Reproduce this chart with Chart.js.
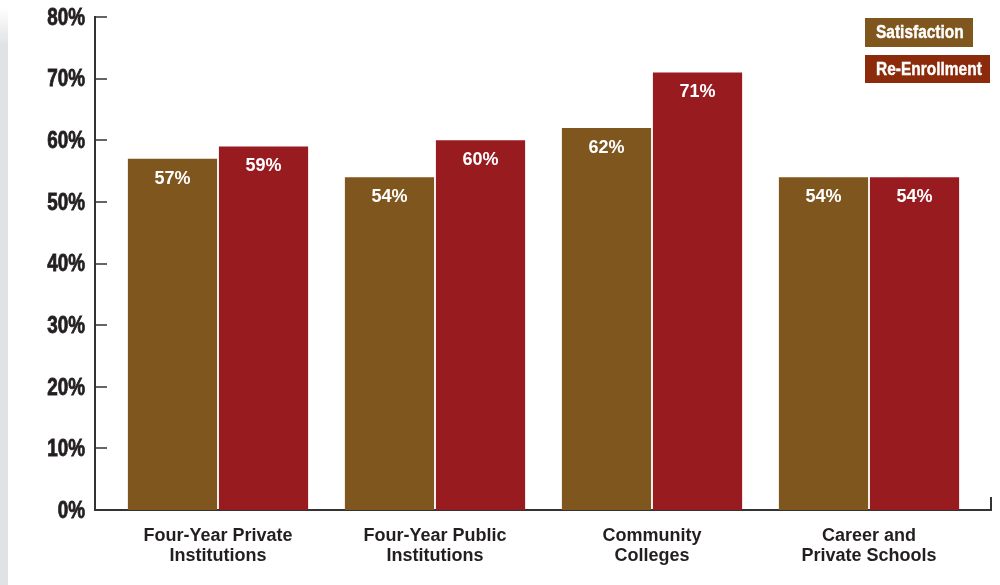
<!DOCTYPE html>
<html>
<head>
<meta charset="utf-8">
<script src="https://cdn.jsdelivr.net/npm/chart.js@4"></script>
<style>
  html, body { margin: 0; padding: 0; background: #fff; }
  canvas { display: block; }
</style>
</head>
<body>
<canvas id="chart-retention" width="1000" height="585"></canvas>
<script>
// data
const categories = [
  "Four-Year Private Institutions",
  "Four-Year Public Institutions",
  "Community Colleges",
  "Career and Private Schools",
];
const categoryLines = [
  ["Four-Year Private", "Institutions"],
  ["Four-Year Public", "Institutions"],
  ["Community", "Colleges"],
  ["Career and", "Private Schools"],
];
const seriesNames = ["Satisfaction", "Re-Enrollment"];
const satisfaction = [57, 54, 62, 54];
const reEnrollment = [59, 60, 71, 54];

const barColors = ["#7f561e", "#981b20"];
const legendColors = ["#7f561e", "#8b2b0b"];
const sans = "'Liberation Sans', Arial, sans-serif";

const toPoints = (arr) => arr.map((v, i) => ({ x: i, y: v }));

// condensed look: squeeze a bold sans horizontally
function narrowText(ctx, text, x, y, size, squeeze, align, heavy) {
  ctx.save();
  ctx.font = "bold " + size + "px " + sans;
  ctx.textAlign = align;
  ctx.textBaseline = "middle";
  ctx.translate(x, y);
  ctx.scale(squeeze, 1);
  ctx.fillText(text, 0, 0);
  if (heavy) {
    ctx.strokeStyle = ctx.fillStyle;
    ctx.lineWidth = heavy;
    ctx.strokeText(text, 0, 0);
  }
  ctx.restore();
}

// grey strip on the left, inward ticks, y labels, right end tick
const frame = {
  id: "frame",
  beforeDraw(chart) {
    const ctx = chart.ctx;
    const g = ctx.createLinearGradient(0, 8, 0, 45);
    g.addColorStop(0, "rgba(225,226,228,0)");
    g.addColorStop(1, "rgba(225,226,228,1)");
    ctx.save();
    ctx.fillStyle = g;
    ctx.fillRect(0, 8, 8, 37);
    ctx.fillStyle = "#e1e2e4";
    ctx.fillRect(0, 45, 8, chart.height - 45);
    ctx.restore();
  },
  afterDraw(chart) {
    const { ctx, chartArea, scales } = chart;
    const y = scales.y;
    ctx.save();
    ctx.strokeStyle = "#333";
    ctx.lineWidth = 1.5;
    ctx.beginPath();
    y.ticks.forEach((t) => {
      const py = Math.round(y.getPixelForValue(t.value));
      ctx.moveTo(chartArea.left, py);
      ctx.lineTo(chartArea.left + 12, py);
    });
    ctx.stroke();
    ctx.lineWidth = 2;
    ctx.beginPath();
    ctx.moveTo(chartArea.right, chartArea.bottom);
    ctx.lineTo(chartArea.right, chartArea.bottom - 13);
    ctx.stroke();
    ctx.fillStyle = "#231f20";
    y.ticks.forEach((t) => {
      const py = y.getPixelForValue(t.value);
      narrowText(ctx, t.value + "%", chartArea.left - 10, py + 1.5, 23, 0.82, "right", 0.8);
    });
    ctx.restore();
  },
};

// value labels inside the bars
const valueLabels = {
  id: "valueLabels",
  afterDatasetsDraw(chart) {
    const ctx = chart.ctx;
    ctx.save();
    ctx.fillStyle = "#fff";
    ctx.font = "bold 18px " + sans;
    ctx.textAlign = "center";
    ctx.textBaseline = "middle";
    chart.data.datasets.forEach((ds, di) => {
      chart.getDatasetMeta(di).data.forEach((bar, i) => {
        ctx.fillText(ds.data[i].y + "%", bar.x, bar.y + 20);
      });
    });
    ctx.restore();
  },
};

// boxed legend, top right
const boxLegend = {
  id: "boxLegend",
  afterDraw(chart) {
    const ctx = chart.ctx;
    const boxes = [
      { x: 865, y: 18, w: 108, h: 29 },
      { x: 865, y: 55, w: 125, h: 28 },
    ];
    ctx.save();
    chart.data.datasets.forEach((ds, i) => {
      const b = boxes[i];
      ctx.fillStyle = legendColors[i];
      ctx.fillRect(b.x, b.y, b.w, b.h);
      ctx.fillStyle = "#fff";
      narrowText(ctx, ds.label, b.x + 11, b.y + b.h / 2 + 1, 18, 0.86, "left", 0.4);
    });
    ctx.restore();
  },
};

new Chart(document.getElementById("chart-retention"), {
  type: "bar",
  data: {
    datasets: [
      {
        label: seriesNames[0],
        backgroundColor: barColors[0],
        data: toPoints(satisfaction),
      },
      {
        label: seriesNames[1],
        backgroundColor: barColors[1],
        data: toPoints(reEnrollment),
      },
    ],
  },
  options: {
    responsive: false,
    animation: false,
    devicePixelRatio: 1,
    categoryPercentage: 0.839,
    barPercentage: 0.98,
    layout: { padding: { top: 17, right: 9, left: 0, bottom: 0 } },
    plugins: {
      legend: { display: false },
      tooltip: { enabled: false },
    },
    scales: {
      x: {
        type: "linear",
        offset: false,
        min: -0.5668,
        max: 3.5622,
        z: 1,
        grid: { display: false, drawTicks: false },
        border: { display: true, color: "#333", width: 2 },
        ticks: {
          stepSize: 1,
          includeBounds: false,
          autoSkip: false,
          maxRotation: 0,
          padding: 16,
          color: "#231f20",
          font: { family: sans, size: 18, weight: "bold", lineHeight: 1.12 },
          callback: (v) => categoryLines[v] || "",
        },
        afterFit(scale) {
          scale.height = 75;
        },
      },
      y: {
        min: 0,
        max: 80,
        grid: { display: false, drawTicks: false },
        border: { display: true, color: "#333", width: 2 },
        ticks: {
          display: false,
          stepSize: 10,
        },
        afterFit(scale) {
          scale.width = 95;
        },
      },
    },
  },
  plugins: [frame, valueLabels, boxLegend],
});
</script>
</body>
</html>
